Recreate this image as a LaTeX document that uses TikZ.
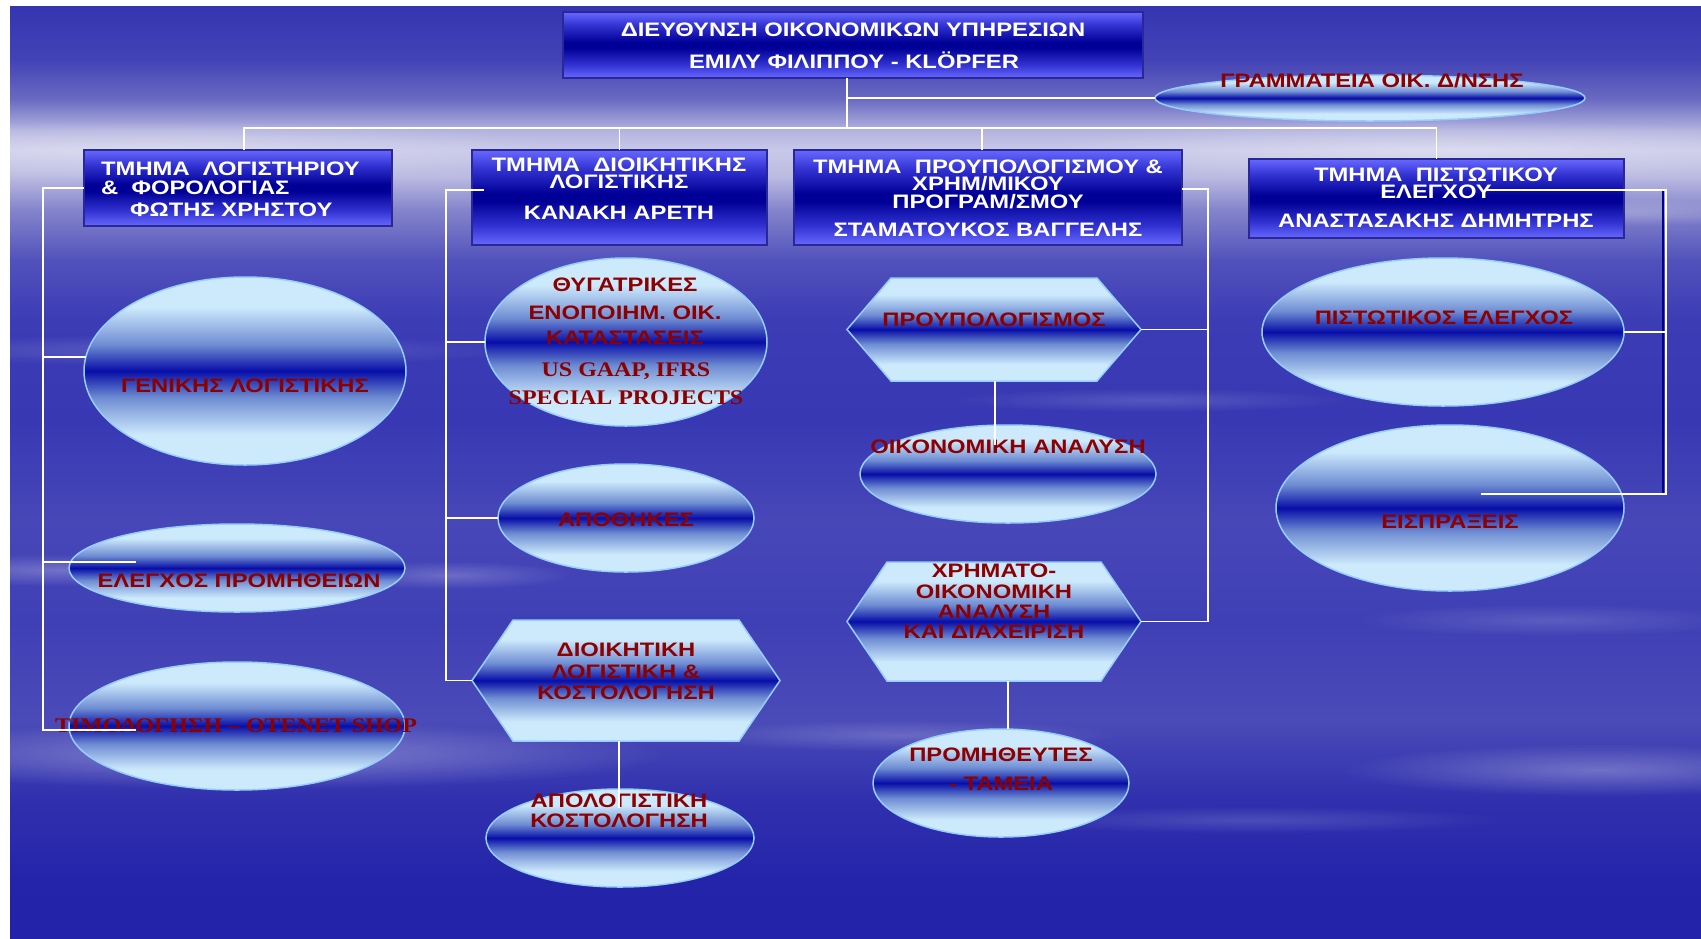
\documentclass[tikz,border=0pt]{standalone}
\usepackage{fontspec}
\setmainfont{Liberation Sans}
\newfontfamily\wsans[FakeStretch=1.22]{Liberation Sans}
\newfontfamily\wserif[FakeStretch=1.15]{Liberation Serif}
\usetikzlibrary{shapes.geometric,calc,fadings}

\definecolor{txtred}{RGB}{139,0,0}
\definecolor{ovlight}{RGB}{205,234,252}
\definecolor{ovmid}{RGB}{110,140,210}
\definecolor{ovdark}{RGB}{8,14,168}
\definecolor{ovedge}{RGB}{150,205,255}
\definecolor{hdlight}{RGB}{104,104,255}
\definecolor{hdmid}{RGB}{50,50,210}
\definecolor{hddark}{RGB}{0,0,150}
\definecolor{hdedge}{RGB}{40,40,150}
\definecolor{navyline}{RGB}{0,0,140}
\definecolor{bgA}{HTML}{3535B2}
\definecolor{bgB}{HTML}{4343B6}
\definecolor{bgC}{HTML}{6A6AC2}
\definecolor{bgD}{HTML}{B4B4E0}
\definecolor{bgE}{HTML}{C8C8E8}
\definecolor{bgF}{HTML}{BCBCE2}
\definecolor{bgG}{HTML}{8585CC}
\definecolor{bgH}{HTML}{5252BC}
\definecolor{bgI}{HTML}{3C3CB5}
\definecolor{bgJ}{HTML}{3838B4}
\definecolor{bgK}{HTML}{4747B8}
\definecolor{bgL}{HTML}{4040B6}
\definecolor{bgM}{HTML}{4A4AB8}
\definecolor{bgN}{HTML}{3030AE}
\definecolor{bgO}{HTML}{2424AA}
\definecolor{bgP}{HTML}{2222AA}

\pgfdeclareverticalshading{bgshade}{100bp}{color(0bp)=(bgP); color(25bp)=(bgP); color(28.1bp)=(bgO); color(32.4bp)=(bgN); color(36.7bp)=(bgM); color(42bp)=(bgL); color(47.4bp)=(bgK); color(52.8bp)=(bgJ); color(58.2bp)=(bgI); color(61.4bp)=(bgH); color(64.1bp)=(bgG); color(65.9bp)=(bgF); color(67.3bp)=(bgE); color(68.3bp)=(bgD); color(70bp)=(bgC); color(72.1bp)=(bgB); color(75bp)=(bgA); color(100bp)=(bgA)}
\pgfdeclareverticalshading{glossy}{100bp}{color(0bp)=(ovlight); color(25bp)=(ovlight); color(33bp)=(ovlight); color(43bp)=(ovmid); color(50bp)=(ovdark); color(57bp)=(ovmid); color(67bp)=(ovlight); color(75bp)=(ovlight); color(100bp)=(ovlight)}
\pgfdeclareverticalshading{hdrsh}{100bp}{color(0bp)=(hdlight); color(25bp)=(hdlight); color(35bp)=(hdmid); color(48bp)=(hddark); color(52bp)=(hddark); color(65bp)=(hdmid); color(75bp)=(hdlight); color(100bp)=(hdlight)}

\tikzfading[name=softoval, inner color=transparent!0, outer color=transparent!100]

\tikzset{
  hdrbox/.style={rectangle, shade, shading=hdrsh, draw=hdedge, line width=1.3pt, inner sep=0pt, outer sep=0pt},
  oval/.style={ellipse, shade, shading=glossy, draw=ovedge, line width=1.5pt, inner sep=0pt, outer sep=0pt},
  hexbox/.style={rectangle, inner sep=0pt, outer sep=0pt},
  hexsty/.style={shade, shading=glossy, draw=ovedge, line width=1.5pt, line join=miter},
  conn/.style={draw=white, line width=1.6pt},
  shadowline/.style={draw=navyline, line width=1.6pt},
  hdrtxt/.style={text=white, font=\wsans\bfseries\fontsize{19.5}{21}\selectfont, anchor=base, inner sep=0pt},
  ovtxt/.style={text=txtred, font=\wsans\bfseries\fontsize{19.5}{21}\selectfont, anchor=base, inner sep=0pt},
  sertxt/.style={text=txtred, font=\wserif\bfseries\fontsize{20.8}{22}\selectfont, anchor=base, inner sep=0pt},
  streak/.style={fill=white, path fading=softoval},
}

\newcommand\hexover[2]{\path[hexsty] (#1.west) -- ($(#1.north west)+(#2,0)$) -- ($(#1.north east)+(-#2,0)$) -- (#1.east) -- ($(#1.south east)+(-#2,0)$) -- ($(#1.south west)+(#2,0)$) -- cycle;}

\begin{document}
\begin{tikzpicture}[x=1pt,y=-1pt]
\useasboundingbox (0,0) rectangle (1701,938);
\fill[white] (0,0) rectangle (1701,938);
\path[shade, shading=bgshade] (10,6) rectangle (1701,938);

% soft streaks in the sky
\begin{scope}
\clip (10,6) rectangle (1701,938);
\fill[streak, opacity=0.35] (150,150) ellipse (420 and 30);
\fill[streak, opacity=0.35] (1450,150) ellipse (420 and 30);
\fill[streak, opacity=0.25] (1600,212) ellipse (200 and 14);
\fill[streak, opacity=0.18] (200,350) ellipse (320 and 16);
\fill[streak, opacity=0.25] (60,570) ellipse (160 and 16);
\fill[streak, opacity=0.22] (450,575) ellipse (120 and 14);
\fill[streak, opacity=0.35] (250,755) ellipse (420 and 34);
\fill[streak, opacity=0.2] (900,735) ellipse (220 and 16);
\fill[streak, opacity=0.28] (1600,770) ellipse (260 and 26);
\fill[streak, opacity=0.15] (1250,820) ellipse (260 and 14);
\fill[streak, opacity=0.15] (1550,620) ellipse (200 and 16);
\fill[streak, opacity=0.15] (1150,400) ellipse (200 and 12);
\end{scope}

% header boxes
\node[hdrbox, minimum width=580pt, minimum height=66pt] (title) at (853,45) {};
\node[hdrbox, minimum width=308pt, minimum height=76pt] (b1) at (238,188) {};
\node[hdrbox, minimum width=295pt, minimum height=95pt] (b2) at (619.5,197.5) {};
\node[hdrbox, minimum width=388pt, minimum height=95pt] (b3) at (988,197.5) {};
\node[hdrbox, minimum width=375pt, minimum height=79pt] (b4) at (1436.5,198.5) {};

% ovals
\node[oval, minimum width=430pt, minimum height=46pt] (sec) at (1370,98) {};
\node[oval, minimum width=322pt, minimum height=188pt] (e1) at (245,371) {};
\node[oval, minimum width=336pt, minimum height=88pt] (e2) at (237,568) {};
\node[oval, minimum width=336pt, minimum height=128pt] (e3) at (237,726) {};
\node[oval, minimum width=282pt, minimum height=168pt] (e4) at (626,342) {};
\node[oval, minimum width=256pt, minimum height=108pt] (e5) at (626,518) {};
\node[oval, minimum width=268pt, minimum height=98pt] (e6) at (620,838) {};
\node[oval, minimum width=296pt, minimum height=98pt] (e7) at (1008,474) {};
\node[oval, minimum width=256pt, minimum height=108pt] (e8) at (1001,783) {};
\node[oval, minimum width=362pt, minimum height=148pt] (e9) at (1443,332) {};
\node[oval, minimum width=348pt, minimum height=166pt] (e10) at (1450,508) {};

% hexagons
\node[hexbox, minimum width=308pt, minimum height=121pt] (h1) at (626,680.5) {};
\node[hexbox, minimum width=294pt, minimum height=103pt] (h2) at (994,329.5) {};
\node[hexbox, minimum width=294pt, minimum height=119pt] (h3) at (994,621.5) {};
\hexover{h1}{41}
\hexover{h2}{44}
\hexover{h3}{40}

% header texts
\node[hdrtxt] (t01) at (853,36) {ΔΙΕΥΘΥΝΣΗ ΟΙΚΟΝΟΜΙΚΩΝ ΥΠΗΡΕΣΙΩΝ};
\node[hdrtxt] (t02) at (854,68) {ΕΜΙΛΥ ΦΙΛΙΠΠΟΥ - KLÖPFER};
\node[hdrtxt, anchor=base west] (t03) at (101,175) {ΤΜΗΜΑ\ \ ΛΟΓΙΣΤΗΡΙΟΥ};
\node[hdrtxt, anchor=base west] (t04) at (101,194) {\&\ \ ΦΟΡΟΛΟΓΙΑΣ};
\node[hdrtxt, anchor=base west] (t05) at (130,216) {ΦΩΤΗΣ ΧΡΗΣΤΟΥ};
\node[hdrtxt] (t06) at (619,171) {ΤΜΗΜΑ\ \ ΔΙΟΙΚΗΤΙΚΗΣ};
\node[hdrtxt] (t07) at (619,188) {ΛΟΓΙΣΤΙΚΗΣ};
\node[hdrtxt] (t08) at (619,219) {ΚΑΝΑΚΗ ΑΡΕΤΗ};
\node[hdrtxt] (t09) at (988,173) {ΤΜΗΜΑ\ \ ΠΡΟΥΠΟΛΟΓΙΣΜΟΥ \&};
\node[hdrtxt] (t10) at (988,190) {ΧΡΗΜ/ΜΙΚΟΥ};
\node[hdrtxt] (t11) at (988,208) {ΠΡΟΓΡΑΜ/ΣΜΟΥ};
\node[hdrtxt] (t12) at (988,236) {ΣΤΑΜΑΤΟΥΚΟΣ ΒΑΓΓΕΛΗΣ};
\node[hdrtxt] (t13) at (1436,181) {ΤΜΗΜΑ\ \ ΠΙΣΤΩΤΙΚΟΥ};
\node[hdrtxt] (t14) at (1436,198) {ΕΛΕΓΧΟΥ};
\node[hdrtxt] (t15) at (1436,227) {ΑΝΑΣΤΑΣΑΚΗΣ ΔΗΜΗΤΡΗΣ};

% oval / hexagon texts
\node[ovtxt] (t16) at (1372,87) {ΓΡΑΜΜΑΤΕΙΑ ΟΙΚ. Δ/ΝΣΗΣ};
\node[ovtxt] (t17) at (245,392) {ΓΕΝΙΚΗΣ ΛΟΓΙΣΤΙΚΗΣ};
\node[ovtxt] (t18) at (239,587) {ΕΛΕΓΧΟΣ ΠΡΟΜΗΘΕΙΩΝ};
\node[sertxt] (t19) at (236,732) {ΤΙΜΟΛΟΓΗΣΗ – OTENET SHOP};
\node[ovtxt] (t20) at (625,291) {ΘΥΓΑΤΡΙΚΕΣ};
\node[ovtxt] (t21) at (625,319) {ΕΝΟΠΟΙΗΜ. ΟΙΚ.};
\node[ovtxt] (t22) at (625,344) {ΚΑΤΑΣΤΑΣΕΙΣ};
\node[sertxt] (t23) at (626,376) {US GAAP, IFRS};
\node[sertxt] (t24) at (626,404) {SPECIAL PROJECTS};
\node[ovtxt] (t25) at (626,526) {ΑΠΟΘΗΚΕΣ};
\node[ovtxt] (t26) at (626,656) {ΔΙΟΙΚΗΤΙΚΗ};
\node[ovtxt] (t27) at (626,678) {ΛΟΓΙΣΤΙΚΗ \&};
\node[ovtxt] (t28) at (626,699) {ΚΟΣΤΟΛΟΓΗΣΗ};
\node[ovtxt] (t29) at (619,807) {ΑΠΟΛΟΓΙΣΤΙΚΗ};
\node[ovtxt] (t30) at (619,827) {ΚΟΣΤΟΛΟΓΗΣΗ};
\node[ovtxt] (t31) at (994,326) {ΠΡΟΥΠΟΛΟΓΙΣΜΟΣ};
\node[ovtxt] (t32) at (1008,453) {ΟΙΚΟΝΟΜΙΚΗ ΑΝΑΛΥΣΗ};
\node[ovtxt] (t33) at (994,577) {ΧΡΗΜΑΤΟ-};
\node[ovtxt] (t34) at (994,598) {ΟΙΚΟΝΟΜΙΚΗ};
\node[ovtxt] (t35) at (994,618) {ΑΝΑΛΥΣΗ};
\node[ovtxt] (t36) at (994,638) {ΚΑΙ ΔΙΑΧΕΙΡΙΣΗ};
\node[ovtxt] (t37) at (1001,761) {ΠΡΟΜΗΘΕΥΤΕΣ};
\node[ovtxt] (t38) at (1001,790) {- ΤΑΜΕΙΑ};
\node[ovtxt] (t39) at (1444,324) {ΠΙΣΤΩΤΙΚΟΣ ΕΛΕΓΧΟΣ};
\node[ovtxt] (t40) at (1450,528) {ΕΙΣΠΡΑΞΕΙΣ};

% connectors: top
\coordinate (jtop) at (847,128);
\draw[conn] (jtop |- title.south) -- (jtop);
\draw[conn] (jtop |- sec.west) -- (sec.west);
\draw[conn] ($(b1.north)+(6,0)$) |- (jtop) -| (b4.north);
\draw[conn] (b2.north) -- (b2.north |- jtop);
\draw[conn] ($(b3.north)+(-6,0)$) -- ($(b3.north)+(-6,-22)$);

% left column
\coordinate (colL) at (43,189);
\coordinate (e2in) at (136,562);
\coordinate (e3in) at (136,730);
\draw[conn] (b1.west) -- (b1.west -| colL) -- (e3in -| colL) -- (e3in);
\draw[conn] (e1.175) -- (e1.175 -| colL);
\draw[conn] (e2in) -- (e2in -| colL);

% second column
\coordinate (colM) at (446,190);
\coordinate (b2in) at (484,190);
\coordinate (e6in) at (619,808);
\draw[conn] (b2in) -- (colM) -- (colM |- h1.west) -- (h1.west);
\draw[conn] (e4.west) -- (e4.west -| colM);
\draw[conn] (e5.west) -- (e5.west -| colM);
\draw[conn] (e6in |- h1.south) -- (e6in);

% third column
\coordinate (colR) at (1208,189);
\coordinate (e7in) at (995,445);
\coordinate (h3drop) at (1008,681);
\draw[conn] (b3.east |- colR) -- (colR) -- (colR |- h3.east) -- (h3.east);
\draw[conn] (h2.east) -- (h2.east -| colR);
\draw[conn] (e7in |- h2.south) -- (e7in);
\draw[conn] (h3drop) -- (h3drop |- e8.north);

% fourth column
\coordinate (colF) at (1666,190);
\coordinate (b4in) at (1486,190);
\coordinate (e10in) at (1481,494);
\draw[shadowline] ($(colF)+(-3,0)$) -- ($(colF |- e10in)+(-3,0)$);
\draw[conn] (b4in) -- (colF) -- (colF |- e10in) -- (e10in);
\draw[conn] (e9.east) -- (e9.east -| colF);
\end{tikzpicture}
\end{document}
